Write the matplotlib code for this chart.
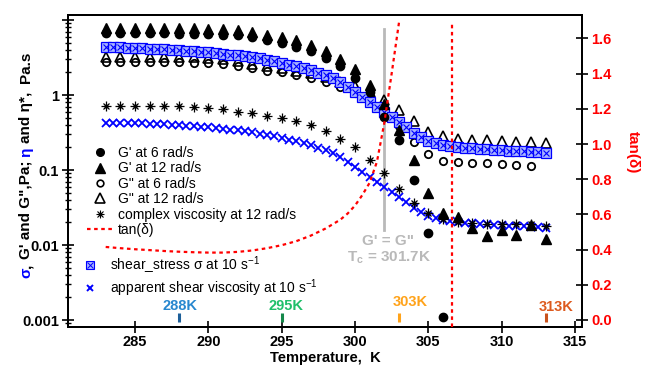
import numpy as np
import matplotlib
matplotlib.use('Agg')
import matplotlib.pyplot as plt
from matplotlib.lines import Line2D
from matplotlib.legend_handler import HandlerTuple
from matplotlib.ticker import FixedLocator, NullFormatter

plt.rcParams['font.family'] = ['Liberation Sans', 'DejaVu Sans']
plt.rcParams['mathtext.fontset'] = 'custom'
plt.rcParams['mathtext.rm'] = 'Liberation Sans'
plt.rcParams['mathtext.it'] = 'Liberation Sans:italic'
plt.rcParams['mathtext.bf'] = 'Liberation Sans:bold'

# ---------------- data ----------------
T_osc = list(range(283, 314))  # oscillatory tests, 1 K steps
nan = np.nan
G_storage_6 = [6.71, 6.71, 6.71, 6.71, 6.67, 6.61, 6.55, 6.47, 6.41, 6.35,
               5.93, 5.36, 4.89, 4.41, 3.86, 3.14, 2.44, 1.71, 1.11, 0.514,
               0.251, 0.0736, 0.0145, 0.00111, nan, nan, nan, nan, nan, nan, nan]
G_storage_12 = [7.94, 7.94, 7.94, 7.94, 7.89, 7.82, 7.75, 7.66, 7.59, 7.47,
                6.88, 6.41, 5.97, 5.38, 4.71, 3.84, 3.02, 2.19, 1.38, 0.759,
                0.341, 0.136, 0.0494, 0.0270, 0.0234, 0.0167, 0.0131, 0.0161, 0.0138, 0.0185, 0.0121]
G_loss_6 = [2.75, 2.75, 2.75, 2.75, 2.75, 2.73, 2.70, 2.65, 2.57, 2.41,
            2.26, 2.12, 2.00, 1.85, 1.70, 1.50, 1.29, 1.08, 0.884, 0.713,
            0.386, 0.238, 0.163, 0.133, 0.128, 0.125, 0.123, 0.120, 0.118, 0.113, nan]
G_loss_12 = [3.26, 3.26, 3.26, 3.26, 3.24, 3.21, 3.18, 3.13, 3.05, 2.84,
             2.63, 2.47, 2.31, 2.12, 1.97, 1.74, 1.51, 1.30, 1.10, 0.871,
             0.631, 0.457, 0.326, 0.280, 0.259, 0.254, 0.250, 0.244, 0.238, 0.233, 0.227]
eta_complex_12 = [0.713, 0.720, 0.724, 0.724, 0.720, 0.713, 0.703, 0.681, 0.645, 0.599,
                  0.570, 0.533, 0.501, 0.454, 0.398, 0.331, 0.263, 0.204, 0.138, 0.0904,
                  0.0550, 0.0363, 0.0267, 0.0222, 0.0203, 0.0197, 0.0193, 0.0191, 0.0188, 0.0193, 0.0179]

T_shear = list(np.arange(283.0, 313.01, 0.5))  # steady shear, 0.5 K steps
shear_stress = [4.41, 4.38, 4.34, 4.30, 4.26, 4.22, 4.17, 4.12, 4.07, 4.02,
                3.96, 3.90, 3.84, 3.77, 3.70, 3.63, 3.55, 3.47, 3.38, 3.28,
                3.18, 3.07, 2.95, 2.82, 2.69, 2.55, 2.41, 2.27, 2.13, 1.98,
                1.83, 1.67, 1.50, 1.29, 1.11, 0.955, 0.819, 0.703, 0.603, 0.509,
                0.436, 0.369, 0.316, 0.275, 0.247, 0.227, 0.215, 0.207, 0.201, 0.197,
                0.194, 0.191, 0.188, 0.186, 0.184, 0.181, 0.179, 0.177, 0.175, 0.172, 0.170]
shear_viscosity = [0.430, 0.430, 0.428, 0.426, 0.423, 0.420, 0.416, 0.411, 0.406, 0.401,
                   0.395, 0.389, 0.383, 0.376, 0.369, 0.362, 0.354, 0.346, 0.337, 0.327,
                   0.317, 0.306, 0.294, 0.282, 0.269, 0.255, 0.241, 0.227, 0.213, 0.198,
                   0.183, 0.167, 0.150, 0.129, 0.111, 0.0955, 0.0819, 0.0703, 0.0603, 0.0509,
                   0.0436, 0.0369, 0.0316, 0.0275, 0.0247, 0.0227, 0.0215, 0.0207, 0.0201, 0.0197,
                   0.0194, 0.0191, 0.0188, 0.0186, 0.0184, 0.0181, 0.0179, 0.0177, 0.0175, 0.0172, 0.0170]

T_tan = [283, 284, 285, 286, 287, 288, 289, 290, 291, 292, 293, 294, 295, 296, 297, 298,
         299, 299.5, 300, 300.5, 301, 301.5, 302, 302.5, 303]
tan_delta = [0.415, 0.408, 0.402, 0.397, 0.392, 0.388, 0.385, 0.383, 0.383, 0.387, 0.395,
             0.408, 0.425, 0.448, 0.480, 0.520, 0.570, 0.605, 0.650, 0.710, 0.780, 0.900,
             1.120, 1.400, 1.690]

T_crossover_line = 302.0
crossover_span = [0.0158, 7.6]
T_peak_line = 306.6
peak_span = [-0.04, 1.695]

anno_T = [288, 295, 303, 313]
anno_text_T = [288.1, 295.3, 303.75, 313.75]
anno_text_y = [0.078, 0.078, 0.1, 0.076]
anno_labels = ['288K', '295K', '303K', '313K']
anno_colors = ['#2787cf', '#1fbf6a', '#ffa31a', '#dd5a1e']
anno_bar_colors = ['#1d5f99', '#14884a', '#ffa31a', '#c9521c']

xticks = [285, 290, 295, 300, 305, 310, 315]
yticks = [0.001, 0.01, 0.1, 1, 10]
yticklabels = ['0.001', '0.01', '0.1', '1', '']
tan_ticks = [0.0, 0.2, 0.4, 0.6, 0.8, 1.0, 1.2, 1.4, 1.6]

# ---------------- figure ----------------
W, H = 646, 367
fig = plt.figure(figsize=(W / 100, H / 100), dpi=100)
ax = fig.add_axes([68 / W, 1 - 327 / H, (582 - 68) / W, (327 - 15) / H])
ax.set_yscale('log')
ax.set_xlim(280.43, 315.48)
ax.set_ylim(10 ** -3.093, 10 ** 1.067)
ax2 = ax.twinx()
ax2.set_ylim(-0.0398, 1.733)

blue = '#0000ff'
# crossover line
ax.plot([T_crossover_line, T_crossover_line], crossover_span, color='#b9b9b9', lw=2, zorder=1)

# oscillatory data
ax.plot(T_osc, G_loss_6, 'o', ms=5.3, mfc='none', mec='k', mew=1.3, zorder=3)
ax.plot(T_osc, G_loss_12, '^', ms=7, mfc='none', mec='k', mew=1.2, zorder=3)
# shear stress (square with cross)
ax.plot(T_shear, shear_stress, 's', ms=6.5, mfc='#a8b4ff', mec=blue, mew=0.9, zorder=4)
ax.plot(T_shear, shear_stress, 'x', ms=4.8, mec=blue, mew=0.8, zorder=4)
ax.plot(T_osc, G_storage_6, 'o', ms=6, color='k', zorder=5)
ax.plot(T_osc, G_storage_12, '^', ms=7, color='k', zorder=5)
# complex viscosity (asterisk)
ax.plot(T_osc, eta_complex_12, '+', ms=6.5, mec='k', mew=0.9, zorder=5)
ax.plot(T_osc, eta_complex_12, 'x', ms=4.8, mec='k', mew=0.9, zorder=5)
ax.plot(T_osc, eta_complex_12, 'o', ms=2.0, color='k', zorder=5)
# apparent viscosity
ax.plot(T_shear, shear_viscosity, 'x', ms=5.2, mec=blue, mew=1.3, zorder=4)

# crossover text
ax.text(302.25, 0.0114, "G' = G\"", color='#b9b9b9', fontsize=11, fontweight='bold',
        ha='center', va='center')
ax.text(302.3, 0.00686, r"T$_\mathbf{c}$ = 301.7K", color='#b9b9b9', fontsize=11,
        fontweight='bold', ha='center', va='center')

# tan(delta)
ax2.plot(T_tan, tan_delta, color='red', lw=1.6, ls=(0, (1.6, 1.6)), zorder=6)
ax2.plot([T_peak_line, T_peak_line], peak_span, color='red', lw=1.6, ls=(0, (1.6, 1.6)), zorder=6)

# temperature annotations
for T, tx, ty, lab, c, bc in zip(anno_T, anno_text_T, anno_text_y, anno_labels, anno_colors, anno_bar_colors):
    ax2.plot([T, T], [-0.012, 0.04], color=bc, lw=2.2, solid_capstyle='butt', zorder=6)
    ax2.text(tx, ty, lab, color=c, fontsize=10.5, fontweight='bold', ha='center', va='center')

# ---------------- axes styling ----------------
for a in (ax, ax2):
    for s in a.spines.values():
        s.set_linewidth(1.4)
ax.xaxis.set_major_locator(FixedLocator(xticks))
ax.set_xticklabels([str(t) for t in xticks])
ax.yaxis.set_major_locator(FixedLocator(yticks))
ax.set_yticklabels(yticklabels)
minors = [m * 10.0 ** e for e in range(-4, 2) for m in range(2, 10)]
ax.yaxis.set_minor_locator(FixedLocator(minors))
ax.yaxis.set_minor_formatter(NullFormatter())
ax.tick_params(axis='x', which='major', direction='inout', length=8, width=1.2,
               labelsize=10.5, pad=2, top=False)
ax.tick_params(axis='y', which='major', direction='inout', length=9, width=1.2,
               labelsize=10.5, pad=2)
ax.tick_params(axis='y', which='minor', direction='inout', length=5, width=1.0)
ax.xaxis.set_minor_locator(FixedLocator([]))
for lab in ax.get_xticklabels() + ax.get_yticklabels():
    lab.set_fontweight('bold')

ax2.yaxis.set_major_locator(FixedLocator(tan_ticks))
ax2.set_yticklabels(['%.1f' % t for t in tan_ticks])
ax2.tick_params(axis='y', which='major', direction='inout', length=9, width=1.2,
                labelsize=10.5, pad=2, labelcolor='red')
for lab in ax2.get_yticklabels():
    lab.set_fontweight('bold')

fig.text(325 / W, 1 - 358 / H, 'Temperature,  K', fontsize=10.5, fontweight='bold',
         ha='center', va='center')
fig.text(633 / W, 1 - 152 / H, 'tan(δ)', fontsize=11, fontweight='bold', color='red',
         rotation=270, ha='center', va='center')

# ---------------- legends ----------------
fs = 10
h1 = Line2D([], [], ls='none', marker='o', ms=5.5, color='k')
h2 = Line2D([], [], ls='none', marker='^', ms=6.5, color='k')
h3 = Line2D([], [], ls='none', marker='o', ms=4.8, mfc='none', mec='k', mew=1.2)
h4 = Line2D([], [], ls='none', marker='^', ms=6.5, mfc='none', mec='k', mew=1.2)
h5 = (Line2D([], [], ls='none', marker='+', ms=6, mec='k', mew=0.8),
      Line2D([], [], ls='none', marker='x', ms=4.4, mec='k', mew=0.8),
      Line2D([], [], ls='none', marker='o', ms=1.8, color='k'))
h6 = Line2D([], [], color='red', lw=1.6, ls=(0, (1.6, 1.6)))
leg1 = ax.legend([h1, h2, h3, h4, h5, h6],
                 ["G' at 6 rad/s", "G' at 12 rad/s", 'G" at 6 rad/s', 'G" at 12 rad/s',
                  'complex viscosity at 12 rad/s', 'tan(δ)'],
                 handler_map={tuple: HandlerTuple(ndivide=1, pad=0)},
                 loc='upper left', bbox_to_anchor=(87 / W, 1 - 146 / H), bbox_transform=fig.transFigure,
                 frameon=False, fontsize=fs, borderpad=0, borderaxespad=0,
                 handlelength=1.87, handletextpad=0.36, labelspacing=0.1, handleheight=0.7)
ax.add_artist(leg1)
h7 = (Line2D([], [], ls='none', marker='s', ms=6, mfc='#a8b4ff', mec=blue, mew=0.8),
      Line2D([], [], ls='none', marker='x', ms=4.4, mec=blue, mew=0.7))
h8 = Line2D([], [], ls='none', marker='x', ms=4.8, mec=blue, mew=1.4)
leg2 = ax.legend([h7, h8], [r'shear_stress σ at 10 s$^{-1}$', r'apparent shear viscosity at 10 s$^{-1}$'],
                 handler_map={tuple: HandlerTuple(ndivide=1, pad=0)},
                 loc='upper left', bbox_to_anchor=(83 / W, 1 - 254 / H), bbox_transform=fig.transFigure,
                 frameon=False, fontsize=fs, borderpad=0, borderaxespad=0,
                 handlelength=1.0, handletextpad=0.94, labelspacing=0.15, handleheight=0.7)

# ---------------- multi-colour left label ----------------
fig.canvas.draw()
r = fig.canvas.get_renderer()
lab_kw = dict(fontsize=11, fontweight='bold')


def text_width(s):
    t = fig.text(0, 0, s, **lab_kw)
    w = t.get_window_extent(r).width
    t.remove()
    return w


space = text_width('a a') - text_width('aa')
segments = [('σ', blue, 0), (',', 'k', 0), ("G' and G\",Pa;", 'k', 1), ('η', blue, 1),
            ('and η*,', 'k', 1), ('Pa.s', 'k', 2)]
widths = [text_width(s) for s, _, _ in segments]
total = sum(widths) + space * sum(n for _, _, n in segments)
ypos = (H - 165) - total / 2
for (s, c, nsp), w in zip(segments, widths):
    ypos += nsp * space
    fig.text(26 / W, ypos / H, s, color=c, rotation=90, rotation_mode='anchor',
             ha='left', va='center', **lab_kw)
    ypos += w

fig.savefig('out.png', dpi=100)
